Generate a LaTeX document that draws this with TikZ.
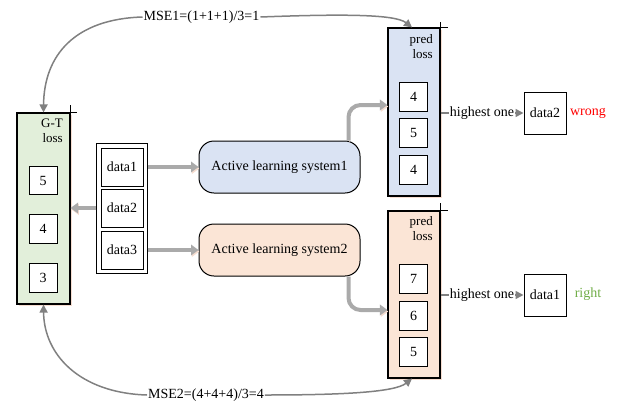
\documentclass[tikz,border=0pt]{standalone}
\usepackage{fontspec}
\setmainfont{Liberation Serif}
\usetikzlibrary{arrows.meta}
\definecolor{gtgreen}{HTML}{E2EFDA}
\definecolor{predblue}{HTML}{DAE3F3}
\definecolor{predorange}{HTML}{FBE5D6}
\definecolor{flowgray}{HTML}{AAAAAA}
\definecolor{linkgray}{HTML}{808080}
\definecolor{okgreen}{HTML}{70AD47}
\definecolor{shadowpink}{HTML}{F6DDD0}

\begin{document}
\begin{tikzpicture}[x=1pt,y=-1pt,
  font=\fontsize{14}{16}\selectfont,
  panel/.style={draw=black, line width=1.1pt, inner sep=0pt,
    preaction={fill=shadowpink, transform canvas={shift={(1.5pt,-1.5pt)}}}},
  valbox/.style={draw=black, line width=1pt, fill=white, inner sep=0pt,
    minimum width=28pt, minimum height=28.5pt},
  databox/.style={draw=black, line width=1pt, inner sep=0pt,
    minimum width=42pt, minimum height=38pt},
  sysbox/.style={draw=black, line width=1pt, rounded corners=15pt,
    minimum width=161pt, minimum height=52pt, inner sep=0pt},
  resbox/.style={draw=black, line width=1pt, inner sep=0pt,
    minimum width=42pt, minimum height=42pt},
  panellabel/.style={anchor=north east, align=right, inner sep=0pt,
    font=\fontsize{13}{15}\selectfont},
  tick/.style={draw=black, line width=1pt},
  flow/.style={draw=flowgray, line width=4pt,
    -{Triangle[length=7.5pt,width=10.5pt]},
    preaction={draw=shadowpink, transform canvas={shift={(0.8pt,-1.5pt)}}}},
  link/.style={draw=linkgray, line width=1.5pt,
    -{Triangle[length=8pt,width=8pt]}},
  midlabel/.style={fill=white, inner sep=1pt}
]
\useasboundingbox (0,0) rectangle (618,407);

% ground-truth loss column
\node[panel, fill=gtgreen, minimum width=53pt, minimum height=191pt] (gt) at (43.5,208.5) {};
\draw[tick] (gt.north east) -- ++(6,0);
\draw[tick] (gt.north east) -- ++(0,-7);
\node[panellabel] (gtlab) at (63,118.5) {G-T\\loss};
\node[valbox] (g1) at (43,180.5) {5};
\node[valbox] (g2) at (43,229) {4};
\node[valbox] (g3) at (43,278) {3};

% data column
\node[draw=black, line width=1pt, minimum width=51pt, minimum height=130pt, inner sep=0pt] (col) at (121.5,208) {};
\node[databox] (d1) at (122,167) {data1};
\node[databox] (d2) at (122,208) {data2};
\node[databox] (d3) at (122,250) {data3};

% active learning systems
\node[sysbox, fill=predblue] (sys1) at (279.5,167) {Active learning system1};
\node[sysbox, fill=predorange] (sys2) at (279.5,250) {Active learning system2};

% predicted loss columns
\node[panel, fill=predblue, minimum width=52pt, minimum height=168pt] (pred1) at (414,112) {};
\draw[tick] (pred1.north east) -- ++(7,0);
\draw[tick] (pred1.north east) -- ++(0,-5);
\node[panellabel] (p1lab) at (433,34.5) {pred\\loss};
\node[valbox] (a1) at (413.5,97) {4};
\node[valbox] (a2) at (413.5,133) {5};
\node[valbox] (a3) at (413.5,170) {4};

\node[panel, fill=predorange, minimum width=52pt, minimum height=167pt] (pred2) at (414,294.5) {};
\draw[tick] (pred2.north east) -- ++(7,0);
\draw[tick] (pred2.north east) -- ++(0,-7);
\node[panellabel] (p2lab) at (433,216.5) {pred\\loss};
\node[valbox] (b1) at (413.5,279) {7};
\node[valbox] (b2) at (413.5,316) {6};
\node[valbox] (b3) at (413.5,352) {5};

% selected samples
\node[resbox] (res2) at (545,113) {data2};
\node[inner sep=0pt, text=red] (wrong) at (588,113) {wrong};
\node[resbox] (res1) at (545,295) {data1};
\node[inner sep=0pt, text=okgreen] (right) at (588,294) {right};

% thick data flows
\draw[flow] (col.east |- d1) -- (sys1.west);
\draw[flow] (col.west |- d2) -- (gt.east |- d2);
\draw[flow] (col.east |- d3) -- (sys2.west);
\draw[flow, rounded corners=12pt] ([xshift=-12pt]sys1.north east) |- ([yshift=7pt]pred1.west);
\draw[flow, rounded corners=12pt] ([xshift=-12pt]sys2.south east) |- ([yshift=-15.5pt]pred2.west);

% highest predicted loss
\draw[link] (pred1.east |- res2) -- node[midlabel] {highest one} (res2.west);
\draw[link] (pred2.east |- res1) -- node[midlabel] {highest one} (res1.west);

% MSE links
\node[inner sep=1pt] (mse1) at (201.5,17) {MSE1=(1+1+1)/3=1};
\draw[link] (mse1.west) .. controls (75,19) and (44,55) .. (gt.north);
\draw[link] (mse1.east) .. controls (340,14) and (395,14) .. ([xshift=-2pt]pred1.north);

\node[inner sep=1pt] (mse2) at (206,395) {MSE2=(4+4+4)/3=4};
\draw[link] (mse2.west) .. controls (80,393) and (44,355) .. (gt.south);
\draw[link] (mse2.east) .. controls (345,395) and (395,392) .. ([xshift=-2pt]pred2.south);
\end{tikzpicture}
\end{document}
